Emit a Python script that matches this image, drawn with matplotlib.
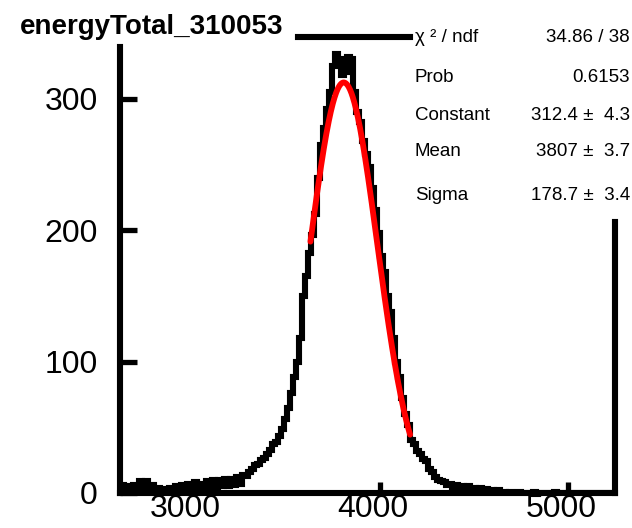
import numpy as np
import matplotlib
matplotlib.use("Agg")
import matplotlib.pyplot as plt
from matplotlib.lines import Line2D
from matplotlib.transforms import ScaledTranslation

plt.rcParams['font.family'] = ['Liberation Sans', 'DejaVu Sans']

# histogram binning
bin_width = 16
first_edge = 2624

# bin contents: low tail, core, high tail
counts_low = [6, 2, 5, 1, 6, 2, 9, 4, 9, 3,
              6, 2, 4, 1, 3, 1, 4, 1, 5, 2,
              6, 2, 7, 3, 8, 3, 7, 3, 9, 4,
              10, 4, 10, 5, 11, 5, 11, 6, 12, 7]
counts_peak = [14, 13, 16, 18, 21, 22, 25, 27, 30, 33,
               37, 39, 43, 49, 56, 65, 76, 88, 100, 118,
               150, 165, 183, 196, 212, 240, 265, 278, 292, 305,
               325, 334, 330, 318, 320, 332, 330, 305, 290, 282,
               268, 258, 248, 232, 215, 198, 180, 168, 150, 138,
               118, 100, 88, 72, 60, 52, 40, 37, 32, 30,
               26, 24, 18, 16, 12, 10, 9, 8, 6]
counts_high = [7, 3, 6, 2, 5, 2, 5, 1, 4, 2,
               4, 1, 3, 1, 2, 0, 2, 0, 1, 0,
               1, 0, 0, 1, 0, 0, 0, 0, 1, 0,
               0, 0, 0, 0, 0, 1, 0, 0, 0, 0,
               0, 0, 0, 0, 0, 0, 0, 0, 0, 0,
               0, 0, 0, 0, 0]

# gaussian fit result
fit_constant = 312.4
fit_mean = 3807.0
fit_sigma = 178.7
fit_range = (3630.0, 4160.0)

# statistics box
stat_labels = ["\u03c7 \u00b2 / ndf", "Prob", "Constant", "Mean", "Sigma"]
stat_values = ["34.86 / 38", "0.6153", "312.4 \u00b1  4.3", "3807 \u00b1  3.7", "178.7 \u00b1  3.4"]
stat_rows_px = [37, 78, 116, 152, 196]

title = "energyTotal_310053"
x_ticks = [3000, 4000, 5000]
y_ticks = [0, 100, 200, 300]
x_range = (2617, 5250)
y_range = (0, 347)

W, H = 632, 528
fig = plt.figure(figsize=(W / 100, H / 100), dpi=100)
ax = fig.add_axes([120 / W, 35 / H, (615 - 120) / W, (493 - 37) / H])

counts = np.array(counts_low + counts_peak + counts_high, dtype=float)
edges = first_edge + bin_width * np.arange(len(counts) + 1)
ax.stairs(counts, edges, baseline=None, color='black', linewidth=4.4)

xf = np.linspace(fit_range[0], fit_range[1], 300)
yf = fit_constant * np.exp(-0.5 * ((xf - fit_mean) / fit_sigma) ** 2)
ax.plot(xf, yf, color='red', linewidth=4.2, solid_capstyle='round')

ax.set_xlim(*x_range)
ax.set_ylim(*y_range)
ax.set_xticks(x_ticks)
ax.set_yticks(y_ticks)
ax.set_xticklabels([str(v) for v in x_ticks])
ax.set_yticklabels([str(v) for v in y_ticks])

for s in ax.spines.values():
    s.set_visible(False)

ax.tick_params(axis='x', direction='in', length=8, width=3.8, labelsize=23, pad=1, top=False)
ax.tick_params(axis='y', direction='in', length=12, width=3.8, labelsize=23, pad=16, right=False)

shift = ScaledTranslation(-7 / 100, 0, fig.dpi_scale_trans)
for lab in ax.get_xticklabels():
    lab.set_transform(lab.get_transform() + shift)

frame_kw = dict(transform=ax.transAxes, color='black', linewidth=4.4, clip_on=False,
                solid_capstyle='projecting')
y_top_left = (493 - 47) / (493 - 37)
y_right_top = (493 - 222) / (493 - 37)
ax.add_line(Line2D([0, 0], [0, y_top_left], **frame_kw))
ax.add_line(Line2D([0, 1], [0, 0], **frame_kw))
ax.add_line(Line2D([1, 1], [0, y_right_top], **frame_kw))
ax.add_line(Line2D([(298 - 120) / 495, (410 - 120) / 495], [1, 1], **frame_kw))

fig.text(20 / W, 1 - 34 / H, title, fontsize=20, fontweight='bold', va='baseline', ha='left')

for lab, val, ypx in zip(stat_labels, stat_values, stat_rows_px):
    fig.text(415 / W, 1 - ypx / H, lab, fontsize=13.5, va='center', ha='left')
    fig.text(630 / W, 1 - ypx / H, val, fontsize=13.5, va='center', ha='right')

fig.savefig("out.png", dpi=100)
